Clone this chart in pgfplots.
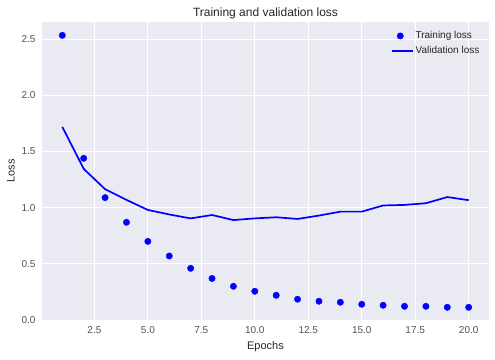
\documentclass[border=0pt]{standalone}
\usepackage{pgfplots}
\pgfplotsset{compat=1.18}
\usepackage{fontspec}
\setmainfont{Liberation Sans}
\definecolor{sbbg}{HTML}{EAEAF2}
\definecolor{txt}{HTML}{262626}
\begin{document}
\begin{tikzpicture}[x=1pt,y=1pt]
\useasboundingbox (-42pt,-39pt) rectangle (453pt,320pt);
\begin{axis}[
  at={(0pt,0pt)}, anchor=south west,
  scale only axis, width=447pt, height=298pt,
  xmin=0.05, xmax=20.95, ymin=0, ymax=2.654,
  axis background/.style={fill=sbbg},
  axis line style={draw=none},
  major tick length=0pt,
  grid=major, grid style={white, line width=1pt},
  xtick={2.5,5,7.5,10,12.5,15,17.5,20},
  ytick={0,0.5,1,1.5,2,2.5},
  xticklabel style={/pgf/number format/fixed,/pgf/number format/fixed zerofill,/pgf/number format/precision=1, yshift=-3pt},
  yticklabel style={/pgf/number format/fixed,/pgf/number format/fixed zerofill,/pgf/number format/precision=1, xshift=-3pt},
  /pgf/number format/assume math mode=true,
  ticklabel style={font=\fontsize{10}{12}\selectfont, text=txt!80},
  xlabel={Epochs}, ylabel={Loss},
  label style={font=\fontsize{11}{13}\selectfont, text=txt},
  xlabel style={yshift=-1pt},
  ylabel style={yshift=0pt},
  title={Training and validation loss},
  title style={font=\fontsize{12}{14}\selectfont, text=txt, yshift=-7pt},
  legend style={at={(0.99,0.982)}, anchor=north east, draw=none, fill=none,
    font=\fontsize{10}{12}\selectfont, text=txt, row sep=2pt},
  legend cell align=left,
]
\addplot[only marks, mark=*, mark size=3.2pt, color=blue, mark options={draw=blue, fill=blue}] coordinates {
(1,2.535) (2,1.44) (3,1.09) (4,0.87) (5,0.70) (6,0.57) (7,0.46) (8,0.37) (9,0.30) (10,0.256)
(11,0.22) (12,0.185) (13,0.167) (14,0.158) (15,0.14) (16,0.131) (17,0.122) (18,0.122) (19,0.113) (20,0.113)
};
\addlegendentry{Training loss}
\addplot[no marks, color=blue, line width=1.7pt,
  legend image code/.code={\draw[blue, line width=1.7pt] (0pt,0pt) -- (21pt,0pt);}] coordinates {
(1,1.72) (2,1.346) (3,1.165) (4,1.07) (5,0.98) (6,0.94) (7,0.905) (8,0.935) (9,0.89) (10,0.905)
(11,0.915) (12,0.90) (13,0.93) (14,0.965) (15,0.965) (16,1.02) (17,1.025) (18,1.04) (19,1.095) (20,1.067)
};
\addlegendentry{Validation loss}
\end{axis}
\end{tikzpicture}
\end{document}
